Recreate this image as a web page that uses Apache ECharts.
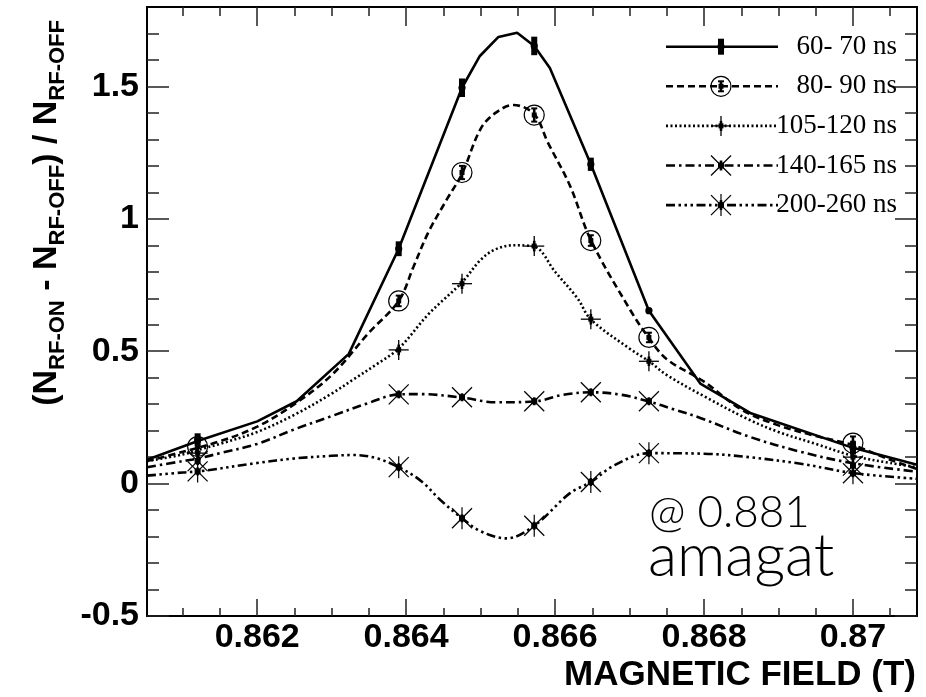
<!DOCTYPE html>
<html><head><meta charset="utf-8">
<script src="https://cdn.jsdelivr.net/npm/echarts@6/dist/echarts.min.js"></script>
<style>html,body{margin:0;padding:0;background:#fff}#c{width:926px;height:697px}</style>
</head><body><div id="c"></div>
<script>
// ---------------- data ----------------
const seriesNames = ['60- 70 ns', '80- 90 ns', '105-120 ns', '140-165 ns', '200-260 ns'];

// measured points (x = magnetic field in T)
const pointX = [0.8612, 0.8639, 0.86475, 0.86572, 0.86648, 0.86726, 0.8700];
const pts60  = [0.165, 0.887, 1.495, 1.653, 1.206, 0.653, 0.135];
const err60  = [0.025, 0.028, 0.035, 0.035, 0.025, 0.008, 0.025];
const pts80  = [0.140, 0.690, 1.175, 1.392, 0.918, 0.552, 0.153];
const err80  = [0.020, 0.020, 0.025, 0.025, 0.020, 0.018, 0.025];
const pts105 = [0.115, 0.505, 0.755, 0.897, 0.621, 0.462, 0.100];
const err105 = [0.020, 0.020, 0.020, 0.020, 0.020, 0.018, 0.020];
const pts140 = [0.085, 0.337, 0.326, 0.311, 0.345, 0.311, 0.068];
const err140 = [0.015, 0.015, 0.015, 0.015, 0.015, 0.015, 0.015];
const pts200 = [0.046, 0.062, -0.131, -0.159, 0.006, 0.115, 0.039];
const err200 = [0.015, 0.015, 0.015, 0.015, 0.015, 0.015, 0.015];

// fitted curves
const curve60X = [0.86052, 0.86124, 0.862, 0.86253, 0.86323, 0.8639, 0.86475, 0.86499, 0.86524, 0.86549, 0.86572, 0.86593, 0.86648, 0.86726, 0.86795, 0.86862, 0.8700, 0.87086];
const curve60Y = [0.090, 0.165, 0.235, 0.311, 0.490, 0.887, 1.495, 1.615, 1.687, 1.703, 1.653, 1.570, 1.206, 0.653, 0.378, 0.267, 0.135, 0.071];

const curve80X = [0.86052, 0.861, 0.8615, 0.862, 0.8625, 0.863, 0.8635, 0.8639, 0.8641, 0.8643, 0.86455, 0.86475, 0.865, 0.8652, 0.86544, 0.86572, 0.8659, 0.8662, 0.86648, 0.867, 0.86726, 0.8675, 0.868, 0.8685, 0.869, 0.8695, 0.870, 0.8705, 0.87086];
const curve80Y = [0.085, 0.120, 0.160, 0.215, 0.300, 0.410, 0.570, 0.690, 0.820, 0.950, 1.075, 1.170, 1.340, 1.400, 1.430, 1.395, 1.290, 1.125, 0.920, 0.660, 0.550, 0.470, 0.385, 0.280, 0.220, 0.180, 0.145, 0.090, 0.055];

const curve105X = [0.86052, 0.861, 0.86124, 0.8615, 0.862, 0.8625, 0.863, 0.8633, 0.8636, 0.8639, 0.8643, 0.86475, 0.865, 0.8652, 0.86544, 0.86572, 0.866, 0.8663, 0.86648, 0.867, 0.86726, 0.8675, 0.868, 0.8686, 0.869, 0.8695, 0.870, 0.8705, 0.87086];
const curve105Y = [0.085, 0.110, 0.130, 0.150, 0.195, 0.260, 0.340, 0.395, 0.450, 0.510, 0.640, 0.760, 0.845, 0.885, 0.900, 0.895, 0.800, 0.700, 0.620, 0.510, 0.462, 0.410, 0.330, 0.242, 0.195, 0.150, 0.105, 0.078, 0.062];

const curve140X = [0.86052, 0.861, 0.86124, 0.8615, 0.862, 0.8625, 0.863, 0.8635, 0.8639, 0.8642, 0.86475, 0.8652, 0.86572, 0.8661, 0.86648, 0.8669, 0.86726, 0.8676, 0.86795, 0.8686, 0.8693, 0.870, 0.87086];
const curve140Y = [0.062, 0.085, 0.097, 0.115, 0.150, 0.205, 0.255, 0.305, 0.337, 0.338, 0.325, 0.307, 0.310, 0.335, 0.345, 0.335, 0.310, 0.280, 0.248, 0.178, 0.120, 0.077, 0.045];

const curve200X = [0.86052, 0.861, 0.86124, 0.862, 0.8625, 0.863, 0.8633, 0.8636, 0.8639, 0.8642, 0.86446, 0.86475, 0.865, 0.86535, 0.86572, 0.8662, 0.86648, 0.8668, 0.86726, 0.868, 0.8686, 0.8693, 0.870, 0.87086];
const curve200Y = [0.030, 0.042, 0.047, 0.078, 0.095, 0.105, 0.108, 0.096, 0.062, 0.010, -0.062, -0.131, -0.180, -0.207, -0.159, -0.036, 0.006, 0.070, 0.115, 0.113, 0.100, 0.075, 0.040, 0.018];

// axes / ticks
const xMin = 0.86052, xMax = 0.87086;
const yMin = -0.5, yMax = 1.80;
const xMajorTicks = [0.862, 0.864, 0.866, 0.868, 0.870];
const xMinorTicks = [0.861, 0.8615, 0.862, 0.8625, 0.863, 0.8635, 0.864, 0.8645, 0.865, 0.8655, 0.866, 0.8665, 0.867, 0.8675, 0.868, 0.8685, 0.869, 0.8695, 0.870, 0.8705];
const yMajorTicks = [-0.5, 0, 0.5, 1, 1.5];
const yMinorTicks = [-0.4, -0.3, -0.2, -0.1, 0.1, 0.2, 0.3, 0.4, 0.6, 0.7, 0.8, 0.9, 1.1, 1.2, 1.3, 1.4, 1.6, 1.7];

// ---------------- styling ----------------
const markerKinds = ['full', 'circle', 'plus', 'cross', 'star'];
const dashes = [null, [7, 4], [2, 2.5], [9, 4, 2.5, 4], [9, 3.5, 2.5, 3.5, 2.5, 3.5, 2.5, 3.5]];
const K = '#000';
const SANS = '"Liberation Sans", Arial, Helvetica, sans-serif';
const SERIF = '"Liberation Serif", "Times New Roman", serif';

function markerEls(kind, cx, cy, yTop, yBot) {
  const els = [];
  const ln = (x1, y1, x2, y2, w) => ({ type: 'line', shape: { x1, y1, x2, y2 }, style: { stroke: K, lineWidth: w } });
  const dot = (s) => ({ type: 'rect', shape: { x: cx - s / 2, y: cy - s / 2, width: s, height: s }, style: { fill: K } });
  if (kind === 'full') {
    els.push({ type: 'rect', shape: { x: cx - 3, y: yTop, width: 6, height: yBot - yTop }, style: { fill: K } });
    els.push({ type: 'circle', shape: { cx, cy, r: 3.6 }, style: { fill: K } });
  } else if (kind === 'circle') {
    els.push({ type: 'circle', shape: { cx, cy, r: 10 }, style: { fill: 'none', stroke: K, lineWidth: 1.2 } });
    els.push(ln(cx, yTop, cx, yBot, 2.6));
    els.push(ln(cx - 3, yTop, cx + 3, yTop, 2));
    els.push(ln(cx - 3, yBot, cx + 3, yBot, 2));
    els.push(dot(5));
  } else if (kind === 'plus') {
    els.push(ln(cx - 10, cy, cx + 10, cy, 1.3));
    els.push(ln(cx, cy - 10, cx, cy + 10, 1.3));
    els.push(ln(cx, yTop, cx, yBot, 2.6));
    els.push(dot(5));
  } else if (kind === 'cross') {
    els.push(ln(cx - 10, cy - 10, cx + 10, cy + 10, 1.2));
    els.push(ln(cx - 10, cy + 10, cx + 10, cy - 10, 1.2));
    els.push(ln(cx, yTop, cx, yBot, 2.6));
    els.push(dot(6));
  } else if (kind === 'star') {
    els.push(ln(cx - 10, cy - 10, cx + 10, cy + 10, 1.2));
    els.push(ln(cx - 10, cy + 10, cx + 10, cy - 10, 1.2));
    els.push(ln(cx, cy - 11, cx, cy + 11, 1.2));
    els.push(ln(cx, yTop, cx, yBot, 2.6));
    els.push(dot(6));
  }
  return els;
}

function pointData(ys, es) { return pointX.map((x, i) => [x, ys[i], es[i]]); }
function curveData(xs, ys) { return xs.map((x, i) => [x, ys[i]]); }

const allPts = [[pts60, err60], [pts80, err80], [pts105, err105], [pts140, err140], [pts200, err200]];
const allCurves = [[curve60X, curve60Y], [curve80X, curve80Y], [curve105X, curve105Y], [curve140X, curve140Y], [curve200X, curve200Y]];

const series = [];
allCurves.forEach((c, i) => {
  series.push({
    name: seriesNames[i], type: 'line', data: curveData(c[0], c[1]),
    xAxisIndex: 0, yAxisIndex: 0, symbol: 'none', silent: true, z: 2,
    smooth: i === 0 ? false : 0.35,
    lineStyle: { color: K, width: 2.6, type: dashes[i] || 'solid' }
  });
});
allPts.forEach((p, i) => {
  const kind = markerKinds[i];
  series.push({
    name: seriesNames[i] + ' pts', type: 'custom', data: pointData(p[0], p[1]),
    xAxisIndex: 0, yAxisIndex: 0, z: 5, silent: true,
    encode: { x: 0, y: 1 },
    renderItem: (params, api) => {
      const x = api.value(0), y = api.value(1), e = api.value(2);
      const c = api.coord([x, y]);
      const t = api.coord([x, y + e]);
      const b = api.coord([x, y - e]);
      return { type: 'group', children: markerEls(kind, c[0], c[1], t[1], b[1]) };
    }
  });
});

// legend drawn as graphic
const legendEls = [];
seriesNames.forEach((n, i) => {
  const yy = 46.7 + i * 39.6;
  const lineStyle = { stroke: K, lineWidth: 2.6 };
  if (dashes[i]) lineStyle.lineDash = dashes[i];
  legendEls.push({ type: 'line', shape: { x1: 666, y1: yy, x2: 778, y2: yy }, style: lineStyle, z: 10 });
  const h = i === 0 ? 8 : 5;
  markerEls(markerKinds[i], 721, yy, yy - h, yy + h).forEach(el => { el.z = 11; legendEls.push(el); });
  legendEls.push({ type: 'text', x: 897, y: yy, z: 11,
    style: { text: n, font: '27px ' + SERIF, fill: K, align: 'right', verticalAlign: 'middle' } });
});

const axisLineStyle = { show: true, onZero: false, lineStyle: { color: K, width: 2 } };
const tickStyle = { color: '#222', width: 1.5 };
function xAx(pos, ticks, len, labels) {
  return {
    type: 'value', position: pos, min: xMin, max: xMax, gridIndex: 0,
    axisLine: axisLineStyle,
    axisTick: { show: true, inside: true, length: len, customValues: ticks, lineStyle: tickStyle },
    axisLabel: labels ? { show: true, customValues: xMajorTicks, margin: 5, color: K,
      fontFamily: SANS, fontWeight: 'bold', fontSize: 34, formatter: v => String(+(+v).toFixed(4)) } : { show: false },
    splitLine: { show: false }
  };
}
function yAx(pos, ticks, len, labels) {
  return {
    type: 'value', position: pos, min: yMin, max: yMax, gridIndex: 0,
    axisLine: axisLineStyle,
    axisTick: { show: true, inside: true, length: len, customValues: ticks, lineStyle: tickStyle },
    axisLabel: labels ? { show: true, customValues: yMajorTicks, margin: 8, color: K,
      fontFamily: SANS, fontWeight: 'bold', fontSize: 34, formatter: v => String(+(+v).toFixed(2)) } : { show: false },
    splitLine: { show: false }
  };
}

const xAxes = [xAx('bottom', xMinorTicks, 8, false), xAx('bottom', xMajorTicks, 17, true),
               xAx('top', xMinorTicks, 9, false), xAx('top', xMajorTicks, 19, false)];
xAxes[1].name = 'MAGNETIC FIELD (T)';
xAxes[1].nameLocation = 'end';
xAxes[1].nameGap = -1;
xAxes[1].nameTextStyle = { fontFamily: SANS, fontWeight: 'bold', fontSize: 35, color: K, align: 'right', verticalAlign: 'top', padding: [42, 0, 0, 0] };

const yAxes = [yAx('left', yMinorTicks, 12, false), yAx('left', yMajorTicks, 22, true),
               yAx('right', yMinorTicks, 12, false), yAx('right', yMajorTicks, 22, false)];

const option = {
  animation: false,
  backgroundColor: '#fff',
  textStyle: { fontFamily: SANS },
  grid: { left: 147, right: 9, top: 7, bottom: 81, containLabel: false },
  xAxis: xAxes,
  yAxis: yAxes,
  series: series,
  graphic: [
    { type: 'group', children: legendEls },
    { type: 'text', x: 48, y: 20, rotation: Math.PI / 2, z: 20,
      style: {
        text: '{b|(N}{s|RF-ON}{b| - N}{s|RF-OFF}{b|) / N}{s|RF-OFF}',
        align: 'right', verticalAlign: 'middle', fill: K,
        rich: {
          b: { fontFamily: SANS, fontWeight: 'bold', fontSize: 34, lineHeight: 36, verticalAlign: 'top', fill: K },
          s: { fontFamily: SANS, fontWeight: 'bold', fontSize: 22, lineHeight: 24, verticalAlign: 'top', padding: [17, 0, 0, 0], fill: K }
        }
      } },
    { type: 'text', x: 649, y: 513, z: 20,
      style: { text: '@ 0.881', font: '300 44px Lato, "Open Sans", sans-serif', fill: K, verticalAlign: 'middle' } },
    { type: 'text', x: 648, y: 557, z: 20,
      style: { text: 'amagat', font: '300 60px Lato, "Open Sans", sans-serif', fill: K, verticalAlign: 'middle' } }
  ]
};

const chart = echarts.init(document.getElementById('c'), null, { renderer: 'canvas' });
chart.setOption(option);
</script>
</body></html>
